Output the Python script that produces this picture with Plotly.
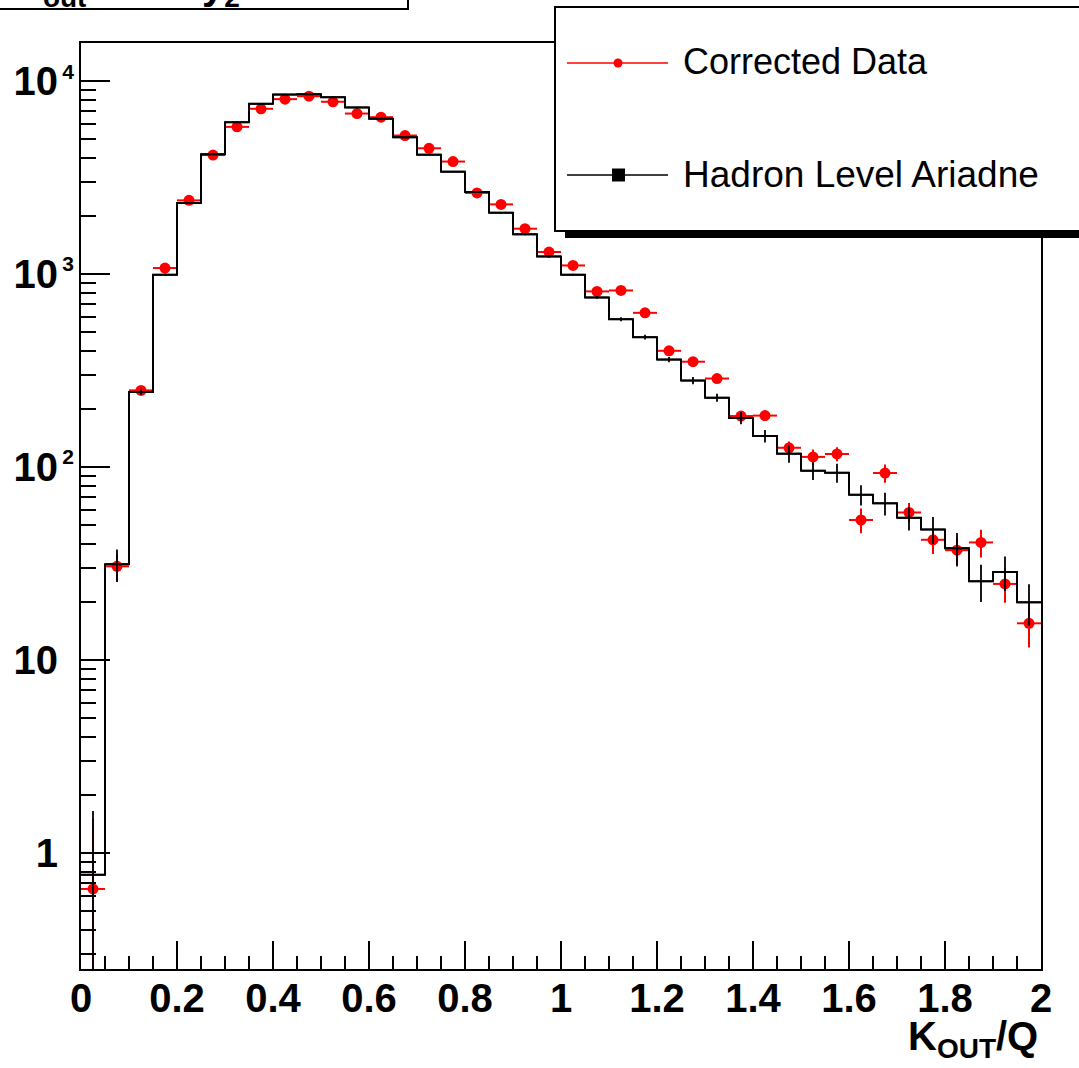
import plotly.graph_objects as go

# ---------------- data ----------------
bin_edges = [0.0, 0.05, 0.1, 0.15, 0.2, 0.25, 0.3, 0.35, 0.4, 0.45, 0.5, 0.55, 0.6, 0.65,
             0.7, 0.75, 0.8, 0.85, 0.9, 0.95, 1.0, 1.05, 1.1, 1.15, 1.2, 1.25, 1.3, 1.35,
             1.4, 1.45, 1.5, 1.55, 1.6, 1.65, 1.7, 1.75, 1.8, 1.85, 1.9, 1.95, 2.0]
bin_centers = [0.025, 0.075, 0.125, 0.175, 0.225, 0.275, 0.325, 0.375, 0.425, 0.475,
               0.525, 0.575, 0.625, 0.675, 0.725, 0.775, 0.825, 0.875, 0.925, 0.975,
               1.025, 1.075, 1.125, 1.175, 1.225, 1.275, 1.325, 1.375, 1.425, 1.475,
               1.525, 1.575, 1.625, 1.675, 1.725, 1.775, 1.825, 1.875, 1.925, 1.975]

corrected_data = [0.65, 30.6, 250, 1077, 2416, 4150, 5810, 7210, 8090, 8380,
                  7840, 6810, 6520, 5240, 4500, 3840, 2640, 2303, 1723, 1304,
                  1111, 815, 824, 631, 401, 352, 288, 184, 185, 126,
                  113, 117, 53.2, 93.2, 58.2, 42, 37.1, 40.7, 24.8, 15.5]
corrected_err = [0.85, 5, 10, 20, 35, 50, 60, 70, 75, 75,
                 70, 65, 60, 55, 50, 45, 40, 35, 30, 25,
                 22, 18, 20, 16, 12, 11, 10, 9, 10, 10,
                 10.6, 9.7, 7.8, 10.1, 6.9, 6.5, 5.9, 6.7, 5.0, 3.9]

hadron_ariadne = [0.77, 31.4, 245, 994, 2343, 4190, 6140, 7650, 8540, 8580,
                  8280, 7330, 6400, 5130, 4170, 3405, 2673, 2085, 1610, 1237,
                  994, 758, 585, 472, 361, 281, 229, 180, 145, 117.5,
                  95.8, 93.5, 71.9, 64.9, 54.6, 47.5, 38.0, 25.6, 28.6, 19.9]
hadron_err = [0.88, 6, 8, 12, 18, 25, 30, 35, 35, 35,
              35, 32, 30, 28, 25, 22, 20, 18, 16, 14,
              13, 12, 14, 13, 11, 12, 11, 13, 11, 12,
              10, 10.5, 8.7, 8.8, 7.7, 7.6, 7.5, 5.6, 5.8, 4.8]
half_width = [0.025] * 40

x_tick_vals = [0, 0.2, 0.4, 0.6, 0.8, 1.0, 1.2, 1.4, 1.6, 1.8, 2.0]
x_tick_text = ["0", "0.2", "0.4", "0.6", "0.8", "1", "1.2", "1.4", "1.6", "1.8", "2"]
y_tick_vals = [1, 10, 100, 1000, 10000]
y_minor_vals = [0.3, 0.4, 0.5, 0.6, 0.7, 0.8, 0.9,
                2, 3, 4, 5, 6, 7, 8, 9,
                20, 30, 40, 50, 60, 70, 80, 90,
                200, 300, 400, 500, 600, 700, 800, 900,
                2000, 3000, 4000, 5000, 6000, 7000, 8000, 9000]

# ---------------- layout helpers ----------------
W, H = 1079, 1068
L, R, T, B = 81, 38, 43, 99
PW, PH = W - L - R, H - T - B


def px(x):
    return (x - L) / PW


def py(y):
    return (H - B - y) / PH


FONT = "Liberation Sans"
SUP = "<sup><span style='font-size:21px'>\u2009{}</span></sup>"
PAD = "<sup><span style='font-size:21px;color:white'>\u20090</span></sup>"
y_tick_text = ["1" + PAD, "10" + PAD, "10" + SUP.format(2), "10" + SUP.format(3), "10" + SUP.format(4)]

fig = go.Figure()

# corrected data (red points with errors)
fig.add_trace(go.Scatter(
    x=bin_centers, y=corrected_data, mode="markers",
    marker=dict(symbol="circle", size=11, color="#ff0000"),
    error_y=dict(type="data", array=corrected_err,
                 arrayminus=[min(e, v * 0.995) for e, v in zip(corrected_err, corrected_data)],
                 color="#ff0000", thickness=2, width=0),
    error_x=dict(type="data", array=half_width, color="#ff0000", thickness=2, width=0),
    name="Corrected Data", showlegend=False))

# hadron level ariadne histogram (step line)
fig.add_trace(go.Scatter(
    x=bin_edges, y=hadron_ariadne + [hadron_ariadne[-1]], mode="lines",
    line=dict(shape="hv", color="black", width=2),
    name="Hadron Level Ariadne", showlegend=False))

# histogram error crosses
fig.add_trace(go.Scatter(
    x=bin_centers, y=hadron_ariadne, mode="markers",
    marker=dict(size=1, color="rgba(0,0,0,0)"),
    error_y=dict(type="data", array=hadron_err,
                 arrayminus=[min(e, v * 0.995) for e, v in zip(hadron_err, hadron_ariadne)],
                 color="black", thickness=1.8, width=0),
    error_x=dict(type="data", array=half_width, color="black", thickness=1.8, width=0),
    showlegend=False, hoverinfo="skip"))

fig.update_xaxes(
    range=[0, 2], showline=True, linecolor="black", linewidth=2, mirror=True,
    showgrid=False, zeroline=False,
    tickmode="array", tickvals=x_tick_vals, ticktext=x_tick_text,
    ticks="inside", ticklen=28, tickwidth=2, tickcolor="black",
    minor=dict(tickmode="linear", tick0=0, dtick=0.05, ticks="inside",
               ticklen=13, tickwidth=2, tickcolor="black"),
    tickfont=dict(family=FONT, size=40, color="black", weight="bold"),
    ticklabelstandoff=-7)

fig.update_yaxes(
    type="log", range=[-0.602, 4.199], showline=True, linecolor="black", linewidth=2,
    mirror=True, showgrid=False, zeroline=False,
    tickmode="array", tickvals=y_tick_vals, ticktext=y_tick_text,
    ticks="inside", ticklen=29, tickwidth=2, tickcolor="black",
    minor=dict(tickmode="array", tickvals=y_minor_vals, ticks="inside",
               ticklen=15, tickwidth=2, tickcolor="black"),
    tickfont=dict(family=FONT, size=40, color="black", weight="bold"),
    ticklabelstandoff=-3)

shapes = [
    # partially visible title box (top-left)
    dict(type="rect", xref="paper", yref="paper", x0=px(-10), x1=px(408), y0=py(9), y1=py(-80),
         fillcolor="white", line=dict(color="black", width=2), layer="above"),
    # legend shadow
    dict(type="rect", xref="paper", yref="paper", x0=px(565), x1=px(1110), y0=py(238), y1=py(17),
         fillcolor="black", line=dict(width=0), layer="above"),
    # legend box
    dict(type="rect", xref="paper", yref="paper", x0=px(555), x1=px(1110), y0=py(231), y1=py(7),
         fillcolor="white", line=dict(color="black", width=2), layer="above"),
    # legend samples
    dict(type="line", xref="paper", yref="paper", x0=px(567), x1=px(668), y0=py(63), y1=py(63),
         line=dict(color="#ff0000", width=1.5), layer="above"),
    dict(type="circle", xref="paper", yref="paper", x0=px(613.5), x1=px(622.5), y0=py(67.5), y1=py(58.5),
         fillcolor="#ff0000", line=dict(width=0), layer="above"),
    dict(type="line", xref="paper", yref="paper", x0=px(567), x1=px(668), y0=py(175), y1=py(175),
         line=dict(color="black", width=1.5), layer="above"),
    dict(type="rect", xref="paper", yref="paper", x0=px(612), x1=px(625), y0=py(181.5), y1=py(168.5),
         fillcolor="black", line=dict(width=0), layer="above"),
]

annotations = [
    dict(text="Corrected Data", xref="paper", yref="paper", x=px(681), y=py(62),
         xanchor="left", yanchor="middle", showarrow=False,
         font=dict(family=FONT, size=36, color="black")),
    dict(text="Hadron Level Ariadne", xref="paper", yref="paper", x=px(681), y=py(174),
         xanchor="left", yanchor="middle", showarrow=False,
         font=dict(family=FONT, size=37, color="black")),
    dict(text="K<sub>OUT</sub>/Q", xref="paper", yref="paper", x=px(1040), y=py(1012),
         xanchor="right", yanchor="top", showarrow=False,
         font=dict(family=FONT, size=40, color="black", weight="bold")),
    dict(text="K<sub>out</sub>", xref="paper", yref="paper", x=px(12), y=py(15),
         xanchor="left", yanchor="bottom", showarrow=False,
         font=dict(family=FONT, size=40, color="black", weight="bold")),
    dict(text="y<sub>2</sub>", xref="paper", yref="paper", x=px(200), y=py(15),
         xanchor="left", yanchor="bottom", showarrow=False,
         font=dict(family=FONT, size=40, color="black", weight="bold")),
]

fig.update_layout(
    width=W, height=H, margin=dict(l=L, r=R, t=T, b=B, pad=0),
    paper_bgcolor="white", plot_bgcolor="white",
    showlegend=False, shapes=shapes, annotations=annotations)

fig.write_html("out.html")
